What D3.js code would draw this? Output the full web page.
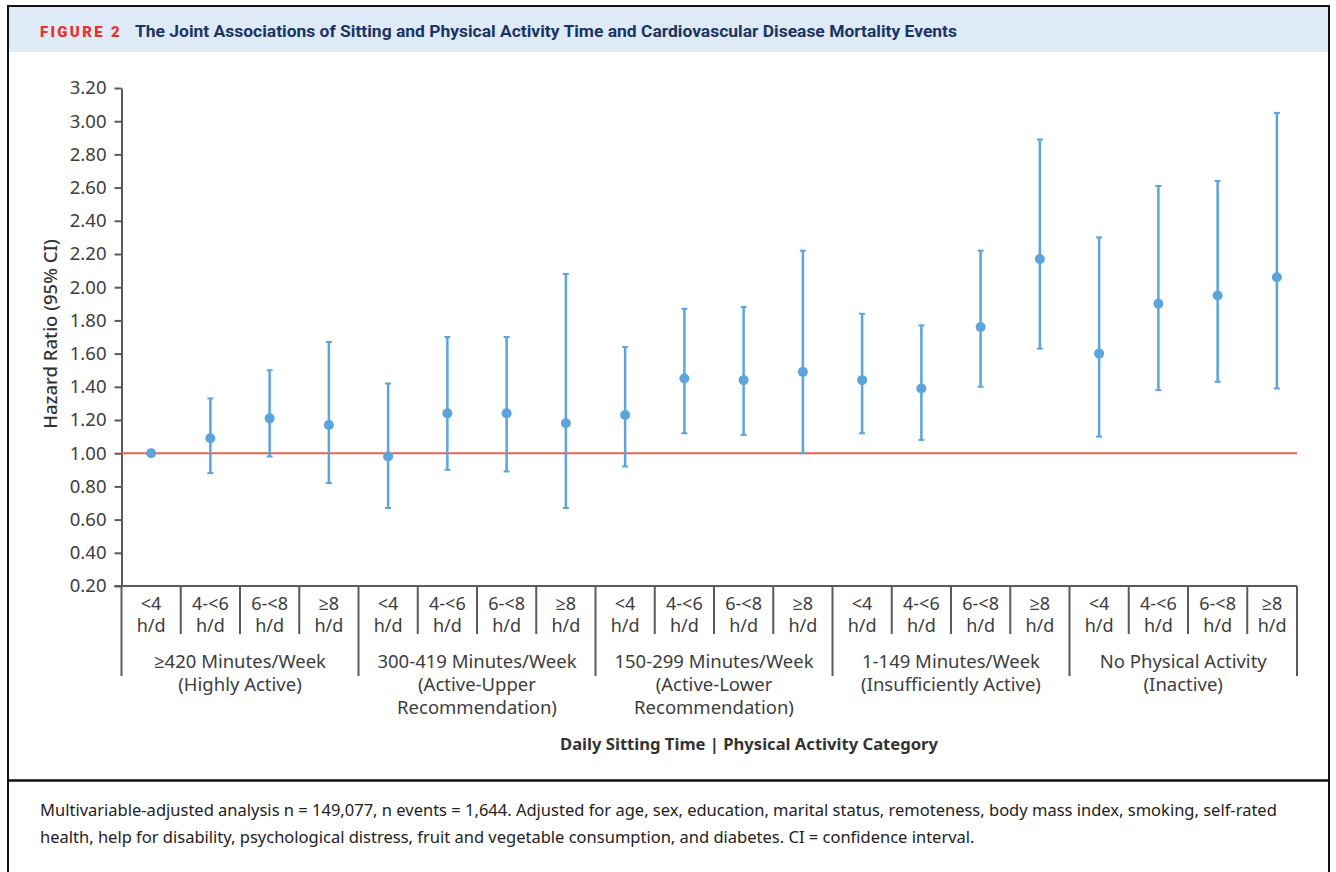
<!DOCTYPE html>
<html>
<head>
<meta charset="utf-8">
<script src="https://cdn.jsdelivr.net/npm/d3@7"></script>
<style>
  html, body { margin: 0; padding: 0; background: #fff; }
  svg { display: block; }
</style>
</head>
<body>
<svg id="chart" width="1336" height="872"></svg>
<script>
// ---------- data ----------
const sittingLabels = ["<4", "4-<6", "6-<8", "\u22658"];
const sittingUnit = "h/d";
const groupLabels = [
  ["\u2265420 Minutes/Week", "(Highly Active)"],
  ["300-419 Minutes/Week", "(Active-Upper", "Recommendation)"],
  ["150-299 Minutes/Week", "(Active-Lower", "Recommendation)"],
  ["1-149 Minutes/Week", "(Insufficiently Active)"],
  ["No Physical Activity", "(Inactive)"]
];
const hazardRatio = [1.00, 1.09, 1.21, 1.17, 0.98, 1.24, 1.24, 1.18, 1.23, 1.45, 1.44, 1.49, 1.44, 1.39, 1.76, 2.17, 1.60, 1.90, 1.95, 2.06];
const ciLower     = [null, 0.88, 0.98, 0.82, 0.67, 0.90, 0.89, 0.67, 0.92, 1.12, 1.11, 1.00, 1.12, 1.08, 1.40, 1.63, 1.10, 1.38, 1.43, 1.39];
const ciUpper     = [null, 1.33, 1.50, 1.67, 1.42, 1.70, 1.70, 2.08, 1.64, 1.87, 1.88, 2.22, 1.84, 1.77, 2.22, 2.89, 2.30, 2.61, 2.64, 3.05];
const yTicks = [0.20, 0.40, 0.60, 0.80, 1.00, 1.20, 1.40, 1.60, 1.80, 2.00, 2.20, 2.40, 2.60, 2.80, 3.00, 3.20];
const referenceValue = 1.00;

const figureLabel = "FIGURE 2";
const titleText = "The Joint Associations of Sitting and Physical Activity Time and Cardiovascular Disease Mortality Events";
const yTitle = "Hazard Ratio (95% CI)";
const xTitle = "Daily Sitting Time | Physical Activity Category";
const footnote = [
  "Multivariable-adjusted analysis n = 149,077, n events = 1,644. Adjusted for age, sex, education, marital status, remoteness, body mass index, smoking, self-rated",
  "health, help for disability, psychological distress, fruit and vegetable consumption, and diabetes. CI = confidence interval."
];

// ---------- layout ----------
const categories = [];
groupLabels.forEach((g, gi) => sittingLabels.forEach((s, si) => categories.push({g: gi, s: si, key: gi + "_" + si, label: s})));

const svg = d3.select("#chart");
const plotLeft = 121.5, bandRight = 1306.5, plotRight = 1297;
const plotTop = 88, plotBottom = 586;
const catDivBottom = 634, groupDivBottom = 676;
const textColor = "#3d3d3d";
const axisColor = "#5a5a5a";
const blue = "#5ba5dc";
const red = "#f0604c";
const font = "'Noto Sans', 'Open Sans', sans-serif";

const x = d3.scaleBand().domain(categories.map(d => d.key)).range([plotLeft, bandRight]).padding(0);
const y = d3.scaleLinear().domain([0.2, 3.2]).range([plotBottom, plotTop]);

// frame & header
svg.append("rect").attr("x", 8).attr("y", 7).attr("width", 1321).attr("height", 45).attr("fill", "#deeaf6");
svg.append("path").attr("d", "M8,880 V6 H1329 V880").attr("fill", "none").attr("stroke", "#111").attr("stroke-width", 2);
svg.append("line").attr("x1", 8).attr("x2", 1329).attr("y1", 780.5).attr("y2", 780.5).attr("stroke", "#111").attr("stroke-width", 2.5);

svg.append("text").attr("x", 40).attr("y", 37)
  .attr("font-family", "Roboto, sans-serif").attr("font-weight", 900).attr("font-size", 15)
  .attr("letter-spacing", "2.3px").attr("fill", "#e8312f").text(figureLabel);
svg.append("text").attr("x", 135).attr("y", 37)
  .attr("font-family", "Roboto, sans-serif").attr("font-weight", 700).attr("font-size", 16.5)
  .attr("textLength", 822).attr("lengthAdjust", "spacingAndGlyphs")
  .attr("fill", "#1b3563").text(titleText);

// y axis
const yAxis = d3.axisLeft(y).tickValues(yTicks).tickFormat(d3.format(".2f")).tickSize(7).tickPadding(8).tickSizeOuter(0);
const yg = svg.append("g").attr("transform", `translate(${plotLeft},0)`).call(yAxis);
yg.select(".domain").attr("stroke", axisColor).attr("stroke-width", 2);
yg.selectAll(".tick line").attr("stroke", axisColor).attr("stroke-width", 2);
yg.selectAll(".tick text").attr("font-family", font).attr("font-size", 18.5).attr("fill", textColor);

// y title
svg.append("text").attr("transform", `translate(57,${(plotTop + plotBottom) / 2 - 3}) rotate(-90)`)
  .attr("text-anchor", "middle").attr("font-family", font).attr("font-size", 18.5).attr("font-weight", 500)
  .attr("fill", "#333").text(yTitle);

// x axis line
svg.append("line").attr("x1", plotLeft - 7).attr("x2", plotRight).attr("y1", plotBottom).attr("y2", plotBottom)
  .attr("stroke", axisColor).attr("stroke-width", 2);

// dividers
const edgeX = i => Math.min(plotLeft + i * x.bandwidth(), plotRight);
d3.range(0, categories.length + 1).forEach(i => {
  const isGroup = i % sittingLabels.length === 0;
  svg.append("line").attr("x1", edgeX(i)).attr("x2", edgeX(i))
    .attr("y1", plotBottom).attr("y2", isGroup ? groupDivBottom : catDivBottom)
    .attr("stroke", axisColor).attr("stroke-width", 2);
});

// category labels (two separate lines)
categories.forEach((c, i) => {
  const cx = (edgeX(i) + edgeX(i + 1)) / 2;
  [c.label, sittingUnit].forEach((line, li) => svg.append("text")
    .attr("x", cx).attr("y", 610 + li * 22).attr("text-anchor", "middle")
    .attr("font-family", font).attr("font-size", 18).attr("fill", textColor).text(line));
});

// group labels
groupLabels.forEach((g, gi) => {
  const n = sittingLabels.length;
  const cx = (edgeX(gi * n) + edgeX(gi * n + n)) / 2;
  g.forEach((line, li) => svg.append("text")
    .attr("x", cx).attr("y", 668 + li * 23).attr("text-anchor", "middle")
    .attr("font-family", font).attr("font-size", 18.5).attr("fill", textColor).text(line));
});

// x title
svg.append("text").attr("x", 749).attr("y", 750).attr("text-anchor", "middle")
  .attr("font-family", font).attr("font-size", 16.6).attr("font-weight", 700).attr("fill", "#333").text(xTitle);

// reference line
svg.append("line").attr("x1", plotLeft).attr("x2", plotRight).attr("y1", y(referenceValue)).attr("y2", y(referenceValue))
  .attr("stroke", red).attr("stroke-width", 2);

// error bars
const cx = i => x(categories[i].key) + x.bandwidth() / 2;
const bars = svg.append("g");
hazardRatio.forEach((v, i) => {
  if (ciLower[i] == null) return;
  bars.append("line").attr("x1", cx(i)).attr("x2", cx(i)).attr("y1", y(ciLower[i])).attr("y2", y(ciUpper[i]))
    .attr("stroke", blue).attr("stroke-width", 2.5);
  [ciLower[i], ciUpper[i]].forEach(e => bars.append("line").attr("x1", cx(i) - 3).attr("x2", cx(i) + 3)
    .attr("y1", y(e)).attr("y2", y(e)).attr("stroke", blue).attr("stroke-width", 2));
});
bars.selectAll("circle").data(hazardRatio).join("circle")
  .attr("cx", (d, i) => cx(i)).attr("cy", d => y(d)).attr("r", 5).attr("fill", blue);

// footnote
footnote.forEach((line, i) => svg.append("text").attr("x", 40).attr("y", 816 + i * 27)
  .attr("font-family", font).attr("font-size", 16.5).attr("fill", "#222").text(line));
</script>
</body>
</html>
